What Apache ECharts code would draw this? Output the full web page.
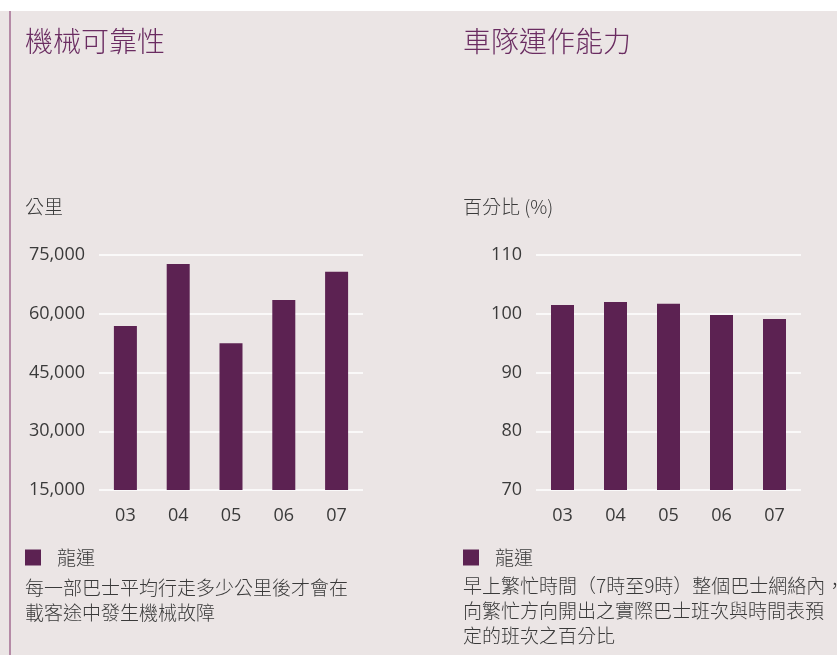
<!DOCTYPE html>
<html>
<head>
<meta charset="utf-8">
<script src="https://cdn.jsdelivr.net/npm/echarts@6/dist/echarts.min.js"></script>
<style>
    html, body { margin: 0; padding: 0; background: #ffffff; }
    #main { width: 837px; height: 655px; }
</style>
</head>
<body>
<div id="main"></div>
<script>
// 數據
const years = ['03', '04', '05', '06', '07'];
const mileage = [56900, 72700, 52500, 63500, 70700];        // 機械可靠性 (公里)
const punctuality = [101.5, 102.0, 101.7, 99.8, 99.1];     // 車隊運作能力 (%)
const seriesName = '龍運';

const purple = '#5c2252';
const titleColor = '#6a2c61';
const textColor = '#3a3a3a';
const cjk = '"Noto Sans CJK TC", "Noto Sans CJK SC", sans-serif';
const num = '"Open Sans", "Noto Sans", sans-serif';

// 軸的共用設定
function makeYAxis(gridIndex, min, max, interval) {
    return {
        type: 'value',
        gridIndex: gridIndex,
        min: min,
        max: max,
        interval: interval,
        axisLine: { show: false },
        axisTick: { show: false },
        axisLabel: { color: textColor, fontSize: 18, fontFamily: num, margin: 14 },
        splitLine: { lineStyle: { color: '#ffffff', width: 1.5 } }
    };
}

function makeXAxis(gridIndex) {
    return {
        type: 'category',
        gridIndex: gridIndex,
        data: years,
        axisLine: { show: false },
        axisTick: { show: false },
        axisLabel: { color: textColor, fontSize: 18, fontFamily: num, margin: 17 }
    };
}

function makeText(left, top, text, size, color, lineHeight) {
    return {
        left: left,
        top: top,
        text: text,
        padding: 0,
        textStyle: {
            fontSize: size,
            fontWeight: 300,
            fontFamily: cjk,
            color: color,
            lineHeight: lineHeight
        }
    };
}

const chart = echarts.init(document.getElementById('main'));

const option = {
    backgroundColor: '#ebe5e5',
    animation: false,
    graphic: [
        { type: 'rect', shape: { x: 0, y: 0, width: 837, height: 11 }, style: { fill: '#ffffff' } },
        { type: 'rect', shape: { x: 9, y: 11, width: 2, height: 644 }, style: { fill: '#b58aa6' } }
    ],
    title: [
        makeText(25, 26, '機械可靠性', 28, titleColor, 30),
        makeText(463, 26, '車隊運作能力', 28, titleColor, 30),
        makeText(25, 196, '公里', 19, textColor, 22),
        makeText(463, 196, '百分比 (%)', 19, textColor, 22),
        makeText(25, 575, '每一部巴士平均行走多少公里後才會在\n載客途中發生機械故障', 19, textColor, 25),
        makeText(463, 573, '早上繁忙時間（7時至9時）整個巴士網絡內，\n向繁忙方向開出之實際巴士班次與時間表預\n定的班次之百分比', 19, textColor, 25)
    ],
    legend: [
        {
            left: 25, top: 548, padding: 0,
            itemWidth: 16, itemHeight: 16, icon: 'rect',
            data: [seriesName],
            selectedMode: false,
            textStyle: { fontSize: 19, fontWeight: 300, fontFamily: cjk, color: textColor, padding: [0, 0, 0, 11] }
        },
        {
            left: 463, top: 548, padding: 0,
            itemWidth: 16, itemHeight: 16, icon: 'rect',
            data: [seriesName],
            selectedMode: false,
            textStyle: { fontSize: 19, fontWeight: 300, fontFamily: cjk, color: textColor, padding: [0, 0, 0, 11] }
        }
    ],
    grid: [
        { left: 99, right: 474, top: 255, bottom: 165 },
        { left: 536, right: 36, top: 255, bottom: 165 }
    ],
    xAxis: [makeXAxis(0), makeXAxis(1)],
    yAxis: [
        makeYAxis(0, 15000, 75000, 15000),
        makeYAxis(1, 70, 110, 10)
    ],
    series: [
        {
            name: seriesName, type: 'bar', xAxisIndex: 0, yAxisIndex: 0,
            data: mileage, barWidth: 23,
            itemStyle: { color: purple }
        },
        {
            name: seriesName, type: 'bar', xAxisIndex: 1, yAxisIndex: 1,
            data: punctuality, barWidth: 23,
            itemStyle: { color: purple }
        }
    ]
};

chart.setOption(option);
</script>
</body>
</html>
